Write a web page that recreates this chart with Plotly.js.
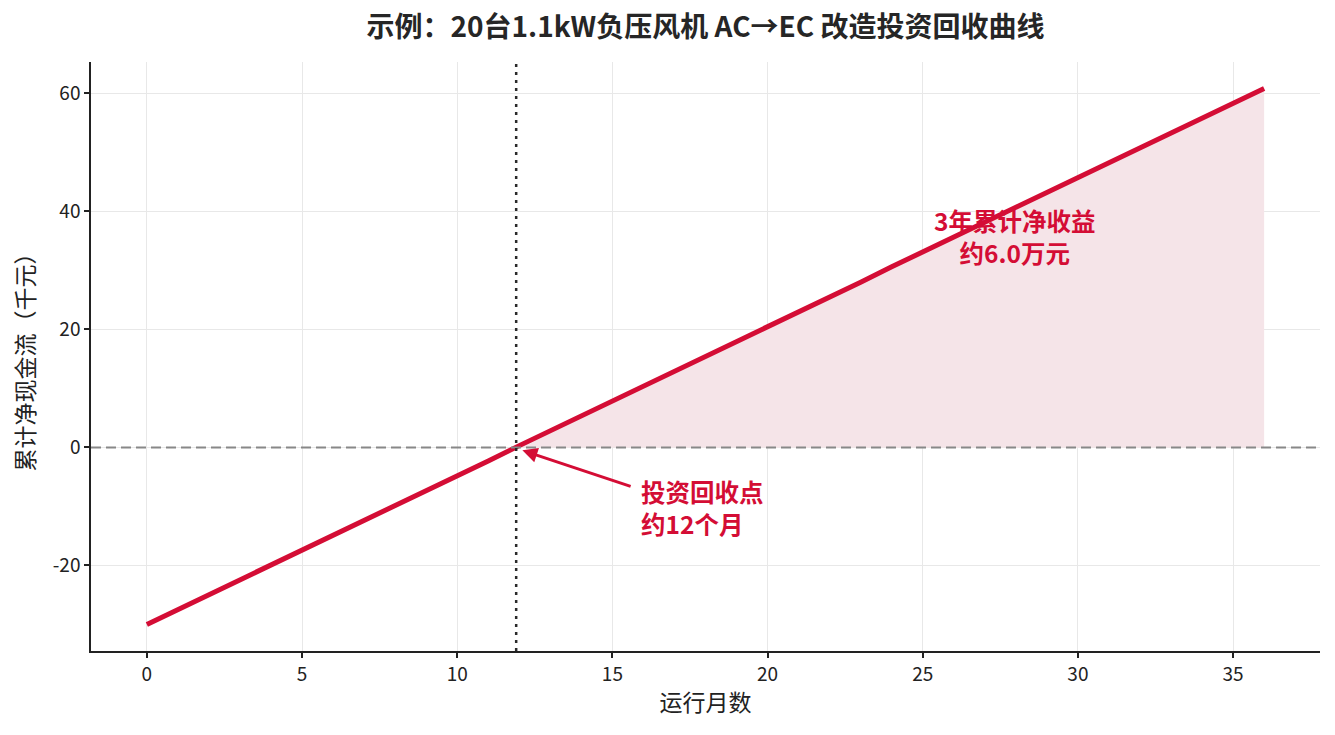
<!DOCTYPE html>
<html>
<head>
<meta charset="utf-8">
<script src="https://cdn.plot.ly/plotly-3.0.1.min.js"></script>
<style>
  html, body { margin: 0; padding: 0; background: #fff; }
  #chart { width: 1335px; height: 735px; }
</style>
</head>
<body>
<div id="chart"></div>
<script>
// months of operation and cumulative net cash flow (thousand yuan)
var months = [0, 1, 2, 3, 4, 5, 6, 7, 8, 9, 10, 11, 12, 13, 14, 15, 16, 17, 18,
  19, 20, 21, 22, 23, 24, 25, 26, 27, 28, 29, 30, 31, 32, 33, 34, 35, 36];
var cashflow = [-30.0, -27.5, -25.0, -22.4, -19.9, -17.4, -14.9, -12.3, -9.8, -7.3,
  -4.8, -2.3, 0.3, 2.8, 5.3, 7.8, 10.4, 12.9, 15.4, 17.9, 20.5, 23.0, 25.5, 28.0,
  30.6, 33.1, 35.6, 38.1, 40.6, 43.2, 45.7, 48.2, 50.7, 53.3, 55.8, 58.3, 60.8];
var paybackMonth = 11.9;

var xTicks = [0, 5, 10, 15, 20, 25, 30, 35];
var yTicks = [-20, 0, 20, 40, 60];
var yTickText = ["-20", "0", "20", "40", "60"];

var red = "#d40d35";
var cjk = "'Noto Sans CJK SC', 'Noto Sans', sans-serif";

// positive area after payback
var fillX = [paybackMonth], fillY = [0];
for (var i = 0; i < months.length; i++) {
  if (months[i] > paybackMonth) { fillX.push(months[i]); fillY.push(cashflow[i]); }
}

var data = [
  {
    x: fillX, y: fillY, type: "scatter", mode: "lines",
    fill: "tozeroy", fillcolor: "#f5e4e8",
    line: { width: 0 }, hoverinfo: "skip", showlegend: false
  },
  {
    x: months, y: cashflow, type: "scatter", mode: "lines",
    line: { color: red, width: 5 }, showlegend: false
  }
];

var layout = {
  width: 1335,
  height: 735,
  margin: { l: 91, r: 15, t: 62, b: 84 },
  paper_bgcolor: "white",
  plot_bgcolor: "white",
  font: { family: cjk, color: "#222", size: 18 },
  title: {
    text: "<b>示例：20台1.1kW负压风机 AC→EC 改造投资回收曲线</b>",
    x: 0.5, xref: "paper", y: 0.963, yanchor: "middle",
    font: { family: cjk, size: 28, color: "#262626" }
  },
  xaxis: {
    range: [-1.8, 37.8], tickmode: "array", tickvals: xTicks,
    showgrid: true, gridcolor: "#e8e8e8", gridwidth: 1.2, zeroline: false,
    showline: true, linecolor: "#222", linewidth: 1.5,
    ticks: "outside", ticklen: 5, tickwidth: 1.5, tickcolor: "#222",
    tickfont: { size: 19, color: "#222" },
    title: { text: "运行月数", font: { size: 23, color: "#222" }, standoff: 10 }
  },
  yaxis: {
    range: [-34.5, 65.3], tickmode: "array", tickvals: yTicks, ticktext: yTickText,
    showgrid: true, gridcolor: "#e8e8e8", gridwidth: 1.2, zeroline: false,
    showline: true, linecolor: "#222", linewidth: 1.5,
    ticks: "outside", ticklen: 5, tickwidth: 1.5, tickcolor: "#222",
    tickfont: { size: 19, color: "#222" },
    title: { text: "累计净现金流（千元）", font: { size: 23, color: "#222" }, standoff: 12 }
  },
  shapes: [
    {
      type: "line", xref: "paper", yref: "y", x0: 0, x1: 1, y0: 0, y1: 0,
      line: { color: "#888", width: 2, dash: "10px,5px" }
    },
    {
      type: "line", xref: "x", yref: "paper", x0: paybackMonth, x1: paybackMonth, y0: 0, y1: 1,
      line: { color: "#2a2a2a", width: 2.5, dash: "3px,5px" }
    }
  ],
  annotations: [
    {
      x: 12.1, y: -0.5, xref: "x", yref: "y",
      ax: 15.7, ay: -6.8, axref: "x", ayref: "y",
      text: " ", showarrow: true, arrowhead: 2, arrowsize: 1, arrowwidth: 3,
      arrowcolor: red, standoff: 0, startstandoff: 0
    },
    {
      x: 15.85, y: -10.1, xref: "x", yref: "y", xanchor: "left", yanchor: "middle",
      align: "left", showarrow: false,
      text: "<b>投资回收点<br>约12个月</b>",
      font: { family: cjk, size: 24.5, color: red }
    },
    {
      x: 27.95, y: 35.7, xref: "x", yref: "y", xanchor: "center", yanchor: "middle",
      align: "center", showarrow: false,
      text: "<b>3年累计净收益<br>约6.0万元</b>",
      font: { family: cjk, size: 24.5, color: red }
    }
  ]
};

Plotly.newPlot("chart", data, layout, { displayModeBar: false });
</script>
</body>
</html>
